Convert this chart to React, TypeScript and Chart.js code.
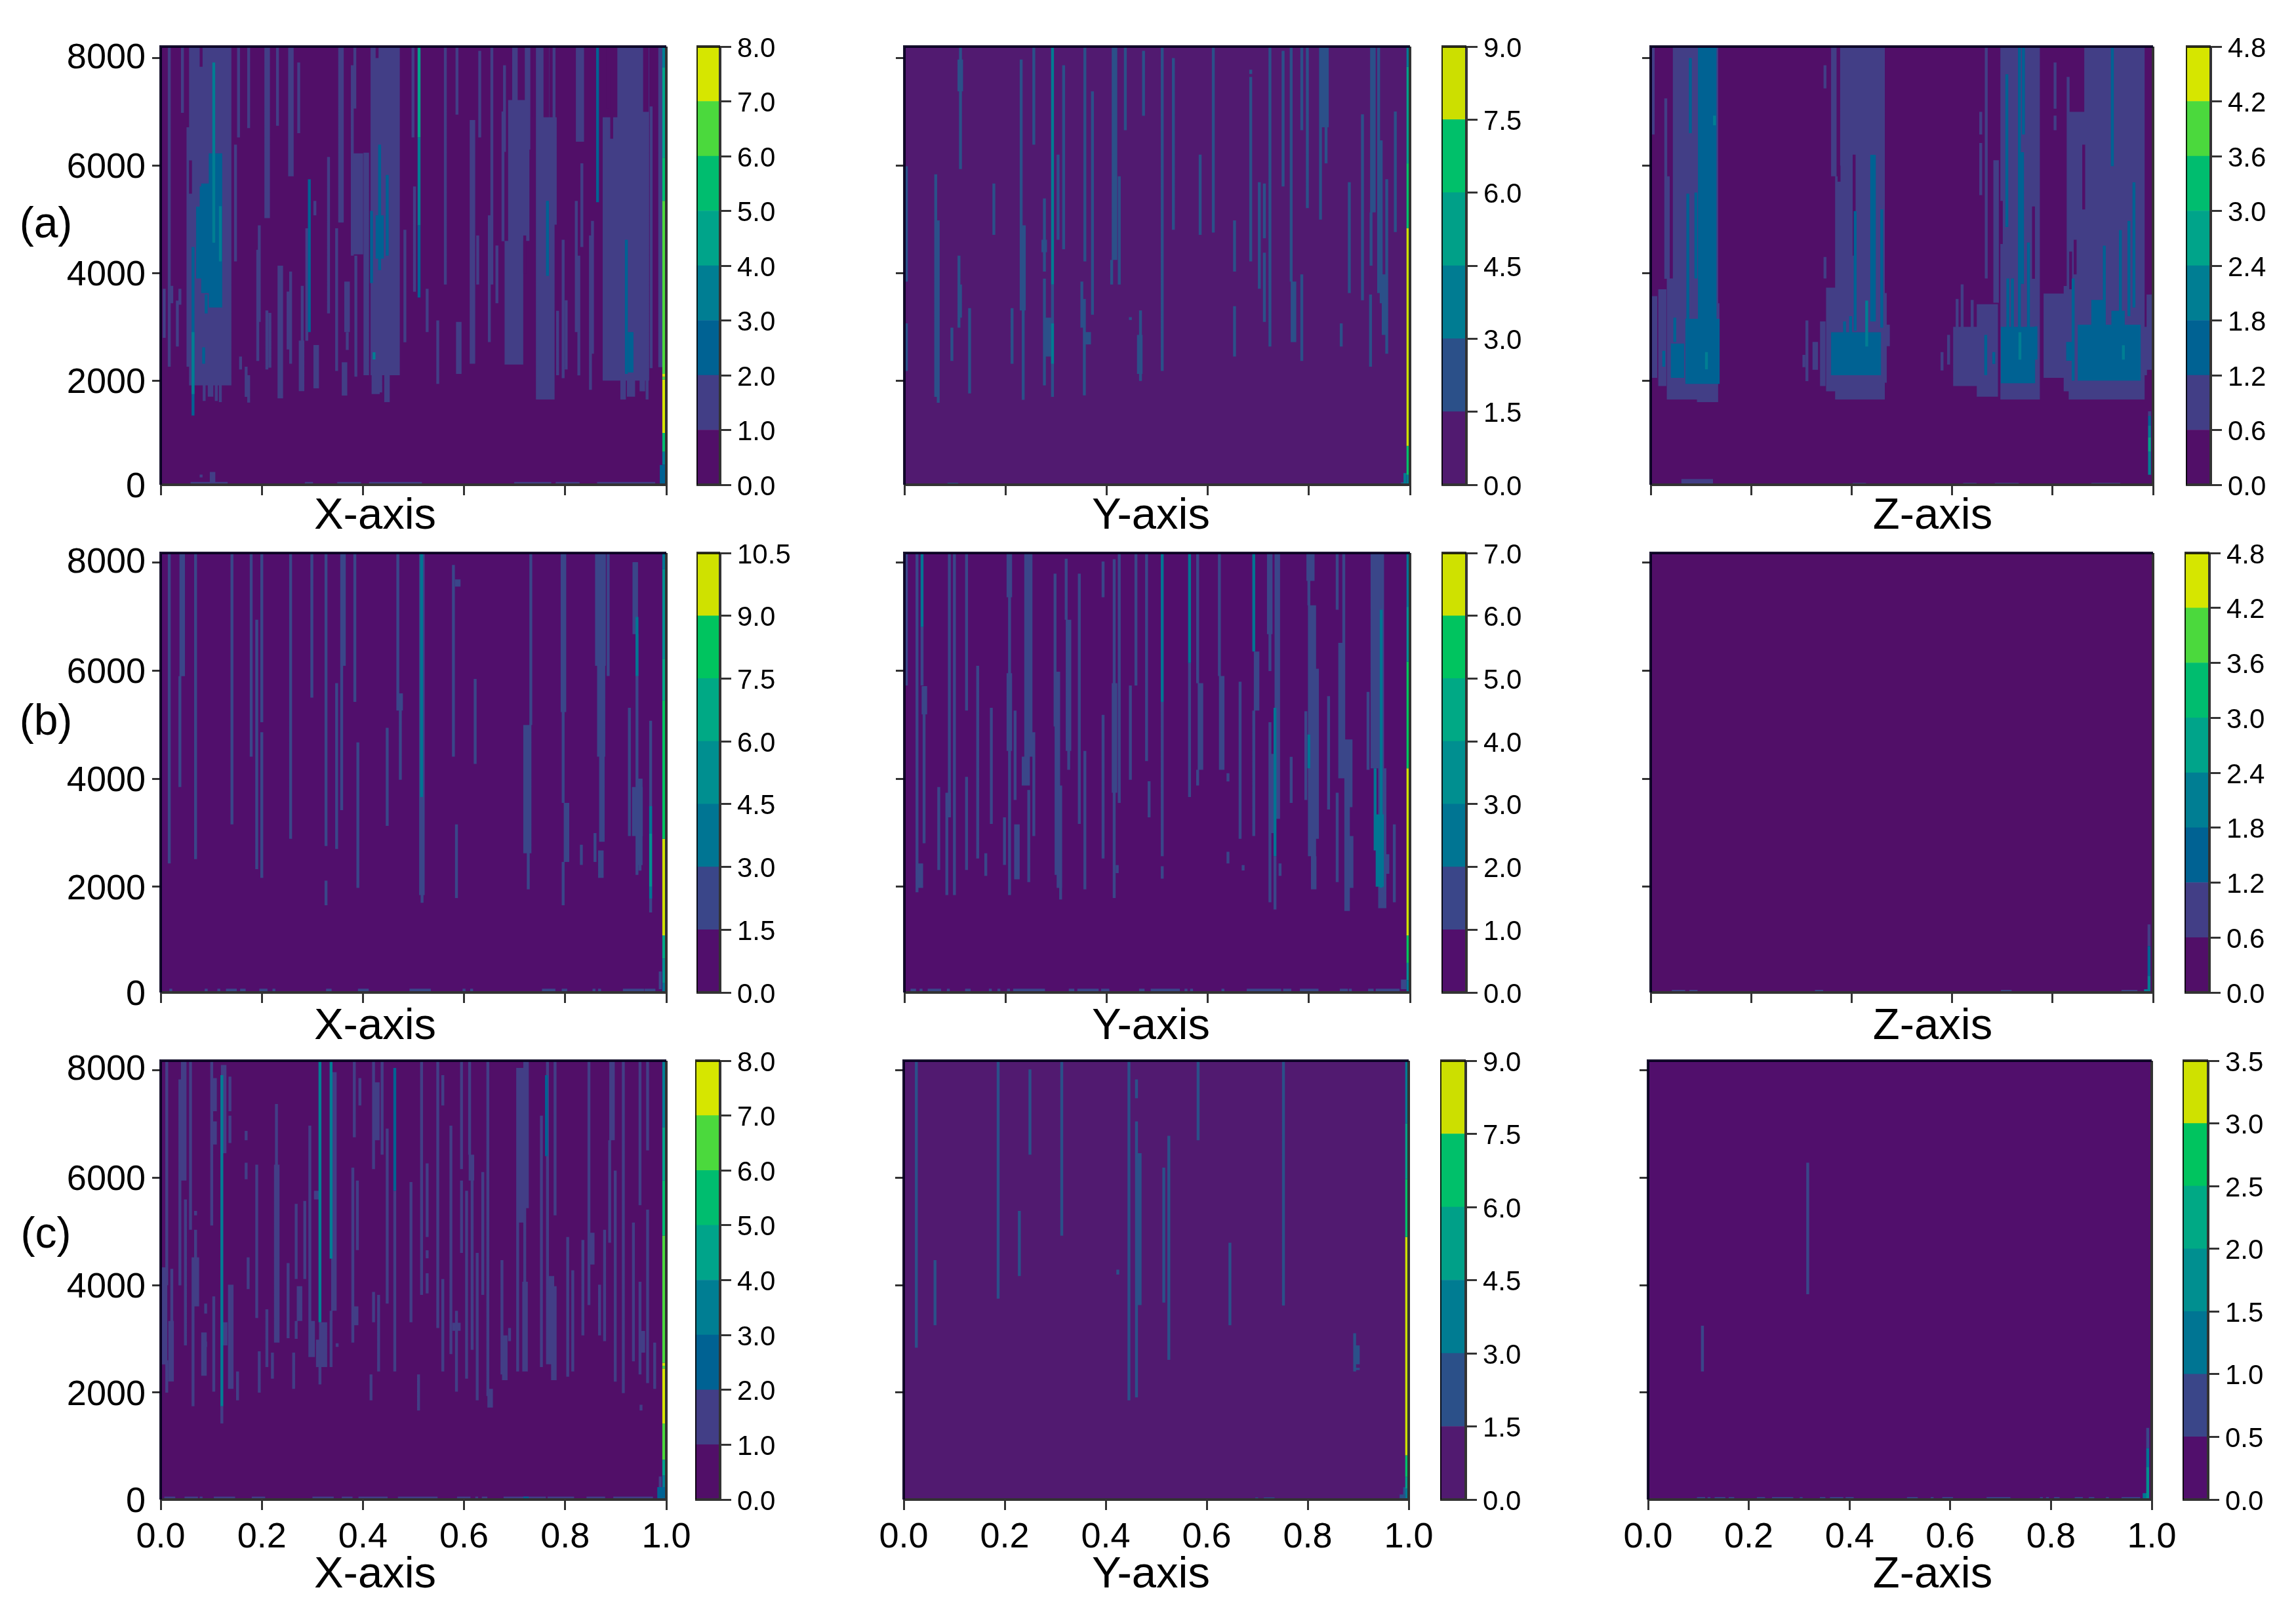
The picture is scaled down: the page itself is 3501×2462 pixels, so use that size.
import React, { useEffect, useRef } from "react";
import { Chart, registerables } from "chart.js";
Chart.register(...registerables);

type Seg = number[];
const COL = 0.0052;

const pal8 = ["#510f68", "#423e86", "#006293", "#007e93", "#00a48a", "#00bd6f", "#4bd93d", "#d6e600"];
const pal7 = ["#510f6c", "#3a4689", "#007593", "#008f90", "#00a985", "#00c45f", "#cfe100"];
const pal6 = ["#511a70", "#2b5089", "#007c92", "#00a088", "#00c06a", "#ccdf00"];

const levels1 = [0, 1, 2, 3, 4, 5, 6, 7, 8];
const levels15 = [0, 1.5, 3, 4.5, 6, 7.5, 9];
const levels105 = [0, 1.5, 3, 4.5, 6, 7.5, 9, 10.5];
const levels7 = [0, 1, 2, 3, 4, 5, 6, 7];
const levels06 = [0, 0.6, 1.2, 1.8, 2.4, 3, 3.6, 4.2, 4.8];
const levels05 = [0, 0.5, 1, 1.5, 2, 2.5, 3, 3.5];

const yTickValues = [2000, 4000, 6000, 8000];
const xTickStep = 0.2;
const rowRange = [[62, 8215], [40, 8180], [10, 8177]];

// ---------- (a) X ----------
const aX1: Seg[] = [
  [.017,2260,8215],[.007,2795,3708],[.022,3440,3762],[.033,2635,3490],[.038,3413,3708],[.043,6981,8215],
  [.059,1911,8215,16],[.054,2260,6713],[.086,1620,1911],[.11,1620,1911],[.118,1600,1911],[.096,1700,1911,2],
  [.148,4218,6391],[.154,6525,8215],[.158,2206,2447],[.169,1697,2260],[.174,6700,8215],[.174,1590,2100],
  [.192,2367,4433],[.195,3091,4889],[.208,5023,8215,2],[.21,2206,3306],[.216,2240,3260],
  [.231,6740,8215],[.234,1670,4137,2],[.255,5800,8215,2],[.252,2580,3655],[.257,2313,4030],
  [.273,6605,7920],[.276,1805,2743,2],[.28,1857,3762],[.289,2742,4835],[.305,1857,2662,2],[.305,5076,5345],
  [.332,3252,6160],[.348,2180,4835],[.354,4942,8215,2],[.361,1723,2340,2],[.366,2903,3842,2],[.369,2570,2900],
  [.379,4325,7866],[.384,7061,8215],[.386,2072,4325],
  [.418,2100,8215,11],[.404,2100,6240,2],[.382,4350,6230,4],[.42,1750,2100,3],[.445,1600,2100,2],[.43,1780,2100,2],
  [.47,4352,7000],[.47,2130,3200],[.483,2715,4808],[.499,6525,8215],[.502,3654,5613],[.527,2903,3708],[.548,1938,3118],
  [.563,3789,8215],[.587,2125,3091,2],[.586,6950,8215],[.614,2313,6847,2],[.631,6525,8135],[.627,3789,4701],
  [.65,2716,5076],[.655,3789,8215],[.665,3440,4513],[.677,4593,7008],[.68,6257,7866],
  [.683,2300,4600,7],[.69,4600,7220,8],[.698,7000,8215,2],[.723,6300,8215,2],
  [.745,1650,4900,7],[.745,4900,8215,5],[.77,4900,6900,3],[.778,5500,8215],[.785,2100,3300],[.796,2045,4620],[.802,2206,3494],
  [.824,6445,8215,3],[.822,2903,5345],[.827,2098,4325],[.833,4486,6042],[.85,1830,4701],[.854,2500,4970],
  [.906,2000,8215,12],[.877,2000,6900,6],[.912,1650,2000,2],[.925,1700,2000,3],[.95,1800,2000,2],
  [.987,2250,8215,2],[.97,2230,7100],[.962,1650,2250],
  [.062,62,115,14],[.288,62,115,3],[.352,62,115,9],[.415,62,115,20],[.702,62,115,14],[.784,62,115,9],[.866,62,115,22],[.1,115,300,2],[.08,200,250],
];
const aX0: Seg[] = [[.08,7839,8215],[.059,5479,6096],[.884,7061,8215],[.892,6500,7800],[.72,4000,4700],[.738,6900,8215],[.76,6900,8215,2],[.957,7000,8215,2],[.428,8000,8215]];
const aX2: Seg[] = [
  [.098,3360,6230,5],[.083,3630,5666,3],[.073,3900,5237,2],[.08,3900,5613],[.064,1350,4486],[.085,2313,2619],[.09,3250,3600],
  [.294,2903,5747],[.433,4057,6391],[.428,4270,5076,3],[.417,3816,5157],[.448,4325,5827],[.765,3950,5345],[.864,5318,8215],[.921,2126,4620],[.927,2152,2903,2],[.511,3547,4889],
];
const aX3: Seg[] = [[.105,4567,7920],[.118,4218,5247],[.064,1750,2903],[.422,2394,2528],[.511,4889,6525]];
const aX4: Seg[] = [[.511,6525,8215]];
const aXEdge: Seg[] = [[2,62,436],[3,436,677],[5,677,1026],[7,1026,2018],[6,2018,2072],[7,2072,2126],[6,2126,5345],[5,5345,6150],[4,6150,7823],[3,7823,8215]];
const aXCorner: Seg[] = [[.99,62,430]];

// ---------- (a) Y ----------
const aY1: Seg[] = [
  [.004,3843,5988],[.004,2179,3064],[.111,5935,8215],[.108,7383,7973,2],[.062,1696,5838],[.067,1589,4980],[.094,2367,2984],
  [.111,3172,3789],[.108,2984,4325],[.129,1761,3349],[.177,4711,5666],[.213,2313,3349],[.231,3306,7973],[.232,3306,4889,2],[.235,1643,3306],
  [.256,6391,8215],[.277,4030,5388],[.277,1911,3896],[.274,4390,4620,2],[.282,2447,3172,2],[.293,1696,3789],[.304,4620,6203],[.315,4443,7866],
  [.357,4218,8215],[.351,2984,3842],[.356,1724,3520],[.361,2673,2903,2],[.372,3226,7383],[.413,4245,8215,2],[.41,3789,4245],[.425,3789,5800],
  [.437,6659,8215],[.473,6927,8135],[.467,1992,3306],[.463,2126,2850,2],[.447,3130,3180],[.51,2179,8215],[.532,4808,8000],[.585,4711,6203],[.611,4754,8215],
  [.653,4030,4980],[.653,2447,3386],[.685,4218,7652],[.685,7705,7785],[.702,3708,5693],[.712,4647,5666],[.712,3091,4379],[.723,2635,8215],[.749,5613,8135],
  [.765,3842,8215],[.767,2716,3842,2],[.786,2367,3976],[.786,6659,8215],[.797,5211,8215],[.823,4996,8215],[.826,6713,8215,3],[.834,6042,8215],[.864,2635,3064],
  [.88,3628,5693],[.906,3494,6954],[.924,5130,8215,2],[.923,4137,5130],[.922,2260,3601],[.938,3628,8215],[.943,3440,6471],[.947,2850,3976,2],[.954,2501,5747],[.971,4765,7008],
  [.088,62,100,4],[.985,62,110,2],
];
const aY2: Seg[] = [[.293,3789,8215],[.293,2313,3064]];
const aYEdge: Seg[] = [[2,62,248],[4,248,785],[5,785,4835],[4,4835,6042],[3,6042,7839],[2,7839,8215]];
const aYCorner: Seg[] = [[.99,62,280]];

// ---------- (a) Z ----------
const aZ1: Seg[] = [
  [.005,6578,8215],[.005,2050,3570,2],[.018,1900,3700,3],[.035,1650,3900,3],[.047,1650,8215,10],[.095,1600,8215,8],[.134,2030,3440],
  [.03,3895,7250],[.035,3895,5800],[.311,1990,3120],[.305,2250,2480],[.325,2200,2720,2],[.34,1900,3100,2],[.352,1800,3730,5],[.362,5800,8215,2],[.347,7437,7866],[.347,3900,4300],
  [.38,1650,8215,17],[.37,1650,5800,2],[.468,2640,3040,2],[.467,1960,3630],[.58,2190,2530],[.593,2300,2850],
  [.605,1900,3000,9],[.61,2980,3520],[.62,2980,3790],[.64,3000,3500],[.652,1700,3420,8],[.657,6578,7000],[.657,5450,6420],[.668,3900,8215],
  [.699,1650,8215,15],[.685,3450,6100,2],[.785,2050,3620,11],[.825,1800,3760,2],[.835,1650,7000,6],[.866,1650,8215,23],[.831,3700,7650],[.805,7060,7920],[.805,6660,6930],
  [.99,2200,3600,2],[.985,2100,3000],[.993,1345,1430],
  [.064,62,170,12],[.405,62,100,5],[.625,62,100,5],[.688,62,100,9],[.88,62,100,11],
];
const aZ0: Seg[] = [[.405,4325,6203],[.375,5700,6000],[.698,4540,5345],[.762,3895,5240],[.862,5184,6390],[.845,3976,4620],[.836,3700,4400]];
const aZ2: Seg[] = [
  [.097,3150,8215,7],[.079,6605,8000],[.074,3150,5479],[.09,3900,5500],[.072,1940,3150,13],[.043,2050,2690,5],[.048,2720,3170],[.026,2260,2555],
  [.44,3100,6200,2],[.443,4000,5900],[.362,2100,2900,19],[.407,2930,5155],[.46,2984,5184],[.386,2900,3100],[.398,2900,3200],
  [.734,1950,8215],[.735,3800,6250,2],[.709,4860,7700],[.742,6578,8215],[.711,2000,3900],[.7,1950,3000,13],[.683,2310,2530],[.752,2020,4570],[.667,2100,2850],[.767,2390,3010],[.72,3000,3900],
  [.853,2000,3040,24],[.83,2370,2720,3],[.841,2000,3900],[.919,5990,8215],[.903,2980,4510],[.935,2980,4800],[.952,3200,4970],[.962,3360,5690],[.88,3000,3500,5],[.92,3000,3300,5],[.993,1160,1345],
];
const aZ3: Seg[] = [[.111,2210,2530],[.127,6750,6930],[.43,2635,3490],[.735,2390,2900],[.941,2390,2660],[.993,248,677],[.993,945,1160]];
const aZ4: Seg[] = [[.993,677,945]];

// ---------- (b) X ----------
const bX1: Seg[] = [
  [.017,2430,8180],[.04,5900,8180,2],[.038,3846,5900],[.069,2510,8180],[.141,3152,8180],[.179,4407,8180],[.19,2324,6943],[.2,5047,8180],[.2,2164,4860],
  [.257,2885,8180],[.299,5501,8180],[.327,2751,8180],[.327,1656,2110],[.348,2698,5768],[.358,6089,8180,2],[.358,3419,6089],[.384,5421,8180],[.39,1977,4673],
  [.448,3125,4941],[.469,5261,8180],[.471,5261,5581,2],[.474,3979,5261],[.514,1843,8180,2],[.517,1700,1843],[.579,4407,7958],[.585,7557,7691,2],[.585,1790,3152],[.622,4273,5848],
  [.732,4994,8180],[.72,2618,4994,3],[.727,1950,2751],[.794,5234,8180,2],[.796,3552,5234],[.8,2457,3552,2],[.796,1656,2457],[.832,2404,2778],
  [.862,6089,8180,4],[.866,4407,6089,3],[.87,2831,4407,2],[.859,2457,2991],[.868,2164,2671,2],[.885,5901,8180],[.936,6676,8011,2],[.927,2938,5314],[.935,2938,3846,4],[.942,2217,6676],[.948,2297,3606],[.945,2400,4000,2],[.969,1523,5074],
  [.02,40,110],[.09,40,110],[.115,40,110],[.132,40,110,4],[.16,40,110,2],[.198,40,110,3],[.224,40,110],[.33,40,110,2],[.393,40,110,4],[.495,40,110,8],[.6,40,110],[.615,40,110],[.757,40,110,5],[.796,40,110,2],[.857,40,110],[.868,40,110],[.917,40,110,8],[.96,40,110,4],[.988,100,430],
];
const bX2: Seg[] = [[.516,3659,8180],[.969,1780,2000],[.969,2980,3490],[.942,5901,6996]];
const bX3: Seg[] = [[.969,2000,2980]];
const bXEdge: Seg[] = [[2,40,214],[3,214,668],[4,668,1096],[6,1096,2885],[5,2885,5448],[4,5448,6222],[3,6222,7877],[2,7877,8180]];

// ---------- (b) Y ----------
const bY1: Seg[] = [
  [.004,5725,8180],[.025,1897,8180],[.029,1977,2430,2],[.035,5725,6810],[.037,5192,5715,2],[.039,2805,5192],[.089,3740,8180],[.084,3285,3740,2],[.084,1843,3285],[.099,1843,8180],[.068,2308,3846],
  [.123,5261,8180],[.123,2308,4033],[.145,2522,6089],[.172,3162,5314],[.161,2201,2618],[.198,2404,3285],[.205,7360,8180,2],[.205,4513,5955,2],[.208,1843,8180],
  [.24,4407,8180,3],[.235,3873,4407,3],[.219,3606,5261],[.22,2137,3152,2],[.246,2084,3792],[.256,2938,4860],[.298,4967,7797],[.3,2217,5982,2],[.304,1977,3873,2],[.309,1763,1977],
  [.322,4513,6943,2],[.325,4166,4513],[.32,6943,8075],[.346,3162,7797],[.357,1950,4513],[.393,7360,8022],[.393,2522,5181],[.413,3740,5768,2],[.415,1790,8065],[.425,3552,8180],[.421,2250,2400],
  [.447,3979,5725],[.458,5725,8180],[.479,4326,8180],[.484,3285,3953],[.51,2564,5421],[.51,2148,2378],[.564,3659,6142],[.58,5768,8180],[.583,4166,5768,2],[.58,3873,4166],
  [.623,5901,8180],[.625,4166,5901,2],[.64,3950,4100],[.64,2430,2645],[.67,2300,2400],[.664,2885,5795],[.694,5261,6355,2],[.691,2938,5261],[.72,6676,8180,2],[.723,5992,6676],[.723,1710,5047],
  [.735,3258,8180,2],[.727,2992,4460,2],[.733,1576,2564],[.743,2201,2430],[.765,3552,4406],[.798,7664,8180,3],[.801,2564,7210,3],[.8,7210,7664],[.794,3606,5250],[.807,1950,2564,2],[.817,2885,6035],
  [.856,7130,8180],[.839,3430,5528],[.861,4006,6516,2],[.869,4006,8180],[.873,3472,4727,3],[.873,1550,3472,2],[.88,1977,2938,2],[.856,2084,3740],[.917,4166,5608],[.925,4193,8180,5],[.94,1600,4193,3],[.951,2240,2600,2],[.969,1710,3152],
  [.015,40,110,2],[.033,40,110],[.049,40,110,5],[.087,40,110],[.123,40,110,2],[.17,40,110],[.187,40,110],[.206,40,110],[.218,40,110,12],[.328,40,110,2],[.345,40,110,8],[.392,40,110,3],[.467,40,110,2],[.49,40,110,11],[.557,40,110],[.568,40,110],[.63,40,110],[.68,40,110,13],[.752,40,110,3],[.785,40,110,7],[.864,40,110,3],[.882,40,110],[.92,40,110,2],[.935,40,110,9],[.985,100,280,2],
];
const bY2: Seg[] = [[.035,6810,8180],[.51,5421,8180],[.564,6142,8180],[.691,6355,8180],[.733,2564,5314],[.8,4193,4819],[.943,1980,7130],[.931,2670,4193],[.935,2000,3340,3]];
const bYEdge: Seg[] = [[2,40,268],[3,268,588],[5,588,1096],[6,1096,4193],[5,4193,6169],[3,6169,7183],[2,7183,8180]];

// ---------- (b) Z ----------
const bZ1: Seg[] = [[.045,40,90,5],[.08,40,90,3],[.33,40,90,3],[.7,40,90,4],[.94,40,90,6],[.992,900,1300]];
const bZ2: Seg[] = [[.992,350,900]];
const bZ3: Seg[] = [[.992,40,350],[.985,40,100,2]];

// ---------- (c) X ----------
const cX1: Seg[] = [
  [.012,4000,8177],[.012,2000,2600],[.005,2525,4331,2],[.018,2206,3335,2],[.022,2206,4304],[.038,3996,7828],[.043,5945,8177,2],[.04,6294,7828,2],[.049,2878,5595],[.059,5030,8177],
  [.068,3604,4519,2],[.064,1748,4519],[.069,5300,5380],[.069,3604,5030],[.089,3470,3658],[.089,2850,2950],[.083,2313,3120,2],[.101,5111,8177],[.103,7236,7854,2],[.103,6617,7048,2],[.105,2017,3792],
  [.137,7236,7882],[.137,6644,7155],[.122,6456,8097,2],[.124,2878,3308,2],[.136,2071,4008,2],[.152,1856,2394],[.121,1425,1748],[.169,6698,6870],[.169,5971,6278],[.173,3927,4519],[.19,3389,6241],[.195,2000,2770],[.21,2475,3550],[.221,2259,2744],
  [.229,6241,7370],[.227,2932,6241,2],[.252,3012,4411],[.263,2071,2744],[.268,4115,5514],[.272,3335,3981,2],[.268,3000,3335],[.285,4115,5568],[.295,2663,6967],[.297,2663,3335,2],[.306,5595,5756,2],[.31,2475,2986,3],
  [.316,2475,3308,3],[.315,2152,2475],[.34,3524,7962,2],[.337,2475,3524],[.349,2850,2920],[.38,2932,6187],[.383,6752,8177],[.383,3255,3604,2],[.389,4653,5945],[.394,7343,7854],
  [.421,6160,8177],[.425,6698,7774,2],[.421,3308,3873],[.431,2394,3820],[.438,6429,8177],[.448,3658,6913],[.463,2394,5756],[.416,1856,2340],[.495,3308,5918],[.51,1667,2340],[.516,3820,8177],[.527,4896,6267],[.527,3846,4223],[.527,4500,4650],
  [.548,3201,8177],[.558,7343,7908],[.558,2394,4115],[.574,2716,6967],[.58,3150,3300,3],[.585,2017,3524],[.595,6160,8177],[.595,4600,5945],[.605,2259,5756],[.612,5945,6429,2],[.611,6429,8177],[.616,2797,5945],[.626,1856,4600],[.637,3820,6106],[.647,1937,8177],[.649,1721,2071,2],
  [.675,2340,4465],[.678,2232,3066,2],[.69,2959,3201],[.706,5165,8043,3],[.706,2394,5407],[.718,2394,4062,2],[.72,5434,8177,2],[.72,2932,5434],[.753,2475,7155],[.765,2528,4169,3],[.775,2233,3981,2],[.765,4169,8177],
  [.78,5299,8177],[.805,2297,4896],[.815,2394,4277],[.835,3066,4842],[.847,3631,8177],[.85,4384,4977,2],[.868,3066,4008],[.878,2959,5030],[.89,6698,8177,2],[.888,4788,6698],[.899,2205,6133],[.915,1991,8177],[.935,2582,5165],[.948,5487,8177],[.948,2340,4062],[.95,2744,3147,2],[.963,6509,8177],[.963,2178,5407],[.977,2071,2932],[.95,1667,1775],
  [.01,10,65,3],[.026,10,65],[.05,10,65,5],[.08,10,65],[.108,10,65,8],[.183,10,65,5],[.303,10,65,8],[.361,10,65,4],[.394,10,65,11],[.472,10,65,15],[.589,10,65,5],[.625,10,65],[.638,10,65,2],[.681,10,65,16],[.768,10,65,10],[.845,10,65,7],[.898,10,65,15],[.988,242,440],
];
const cX2: Seg[] = [[.463,5756,8043],[.763,6402,7908],[.72,10,65,2],[.985,10,242,2]];
const cX3: Seg[] = [[.121,1748,7908],[.315,3308,8177],[.337,4492,8177]];
const cXEdge: Seg[] = [[2,10,242],[3,242,457],[4,457,753],[6,753,1425],[7,1425,2448],[6,2448,2500],[7,2500,2555],[6,2555,4922],[5,4922,5945],[4,5945,6940],[3,6940,8177]];

// ---------- (c) Y ----------
const cY1: Seg[] = [
  [.025,2835,8177],[.062,3255,4465],[.187,3750,8177],[.25,6429,8016],[.229,4169,5380],[.313,4922,8177],[.424,4196,4288],[.446,1856,8177],[.461,7478,7828],[.461,1910,7047],[.463,3631,6456,2],
  [.515,3674,6187],[.525,2609,6778],[.583,6698,8177],[.646,3255,4788],[.752,3620,8177],[.893,2394,3104],[.895,2528,2878,2],[.895,2420,2460,2],
  [.699,10,50],[.716,10,50,4],[.985,10,105,2],[.992,105,240],
];
const cYEdge: Seg[] = [[2,10,215],[3,215,430],[4,430,834],[5,834,4896],[4,4896,5972],[3,5972,7010],[2,7010,8177]];

// ---------- (c) Z ----------
const cZ1: Seg[] = [
  [.108,2394,3244],[.317,3830,6278],[.992,968,1345],
  [.1,10,55,3],[.121,10,55],[.135,10,55,4],[.163,10,55,2],[.219,10,55,3],[.249,10,55,8],[.304,10,55],[.344,10,55,2],[.364,10,55,5],[.395,10,55,3],[.517,10,55,4],[.564,10,55],[.587,10,55,4],[.675,10,55,9],[.781,10,55],[.793,10,55],[.809,10,55,2],[.85,10,55,3],[.878,10,55,2],[.912,10,55],[.943,10,55,7],
];
const cZ2: Seg[] = [[.992,618,968],[.985,10,130,2]];
const cZ3: Seg[] = [[.992,10,618]];

const colTitles = ["X-axis", "Y-axis", "Z-axis"];
const rowTitles = ["(a)", "(b)", "(c)"];

type Layer = { color: number; segs: Seg[] };
type Panel = {
  row: number; col: number; box: number[]; bar: number[]; levels: number[]; palette: string[];
  layers: Layer[]; edge?: Seg[]; edgeX?: number;
};

const rowBox = [[71, 739], [843, 1513], [1617, 2286]];

const panels: Panel[] = [
  { row: 0, col: 0, box: [245, 1016], bar: [1062, 1098], levels: levels1, palette: pal8, edge: aXEdge, edgeX: .996,
    layers: [{ color: 1, segs: aX1 }, { color: 0, segs: aX0 }, { color: 2, segs: aX2 }, { color: 3, segs: aX3 }, { color: 4, segs: aX4 }, { color: 2, segs: aXCorner }] },
  { row: 0, col: 1, box: [1379, 2150], bar: [2198, 2236], levels: levels15, palette: pal6, edge: aYEdge, edgeX: .997,
    layers: [{ color: 1, segs: aY1 }, { color: 2, segs: aY2 }, { color: 2, segs: aYCorner }] },
  { row: 0, col: 2, box: [2517, 3283], bar: [3333, 3371], levels: levels06, palette: pal8,
    layers: [{ color: 1, segs: aZ1 }, { color: 0, segs: aZ0 }, { color: 2, segs: aZ2 }, { color: 3, segs: aZ3 }, { color: 4, segs: aZ4 }] },
  { row: 1, col: 0, box: [245, 1016], bar: [1062, 1098], levels: levels105, palette: pal7, edge: bXEdge, edgeX: .996,
    layers: [{ color: 1, segs: bX1 }, { color: 2, segs: bX2 }, { color: 3, segs: bX3 }] },
  { row: 1, col: 1, box: [1379, 2150], bar: [2198, 2236], levels: levels7, palette: pal7, edge: bYEdge, edgeX: .997,
    layers: [{ color: 1, segs: bY1 }, { color: 2, segs: bY2 }] },
  { row: 1, col: 2, box: [2517, 3283], bar: [3331, 3369], levels: levels06, palette: pal8,
    layers: [{ color: 1, segs: bZ1 }, { color: 2, segs: bZ2 }, { color: 3, segs: bZ3 }] },
  { row: 2, col: 0, box: [245, 1016], bar: [1060, 1098], levels: levels1, palette: pal8, edge: cXEdge, edgeX: .996,
    layers: [{ color: 1, segs: cX1 }, { color: 2, segs: cX2 }, { color: 3, segs: cX3 }] },
  { row: 2, col: 1, box: [1378, 2148], bar: [2196, 2235], levels: levels15, palette: pal6, edge: cYEdge, edgeX: .997,
    layers: [{ color: 1, segs: cY1 }] },
  { row: 2, col: 2, box: [2513, 3281], bar: [3328, 3367], levels: levels05, palette: pal7,
    layers: [{ color: 1, segs: cZ1 }, { color: 2, segs: cZ2 }, { color: 3, segs: cZ3 }] },
];

const titleX = [572, 1755, 2947];
const titleY = [782, 1560, 2396];
const rowLabelY = [339, 1097, 1879];

const PAD_L = 150, PAD_R = 50, PAD_T = 30, PAD_B = 125;
const FONT = "'Liberation Sans', Arial, sans-serif";

const noPad = (s: any) => { s.paddingLeft = 0; s.paddingRight = 0; s.paddingTop = 0; s.paddingBottom = 0; };

// Nudges the y-axis tick labels a few pixels down, as they sit in the reference.
const labelNudge = (dy: number, skipTop: boolean) => ({
  id: "labelNudge",
  beforeDraw(chart: any) {
    const s = chart.scales.y;
    const items = s.getLabelItems(chart.chartArea);
    const last = items.length - 1;
    items.forEach((it: any, i: number) => {
      if (skipTop && i === last) return;
      if (it.options && it.options.translation) it.options.translation[1] += dy;
    });
  },
});

const frame = (c0: string, c1: string) => ({
  id: "frame",
  afterDraw(chart: any) {
    const { ctx, chartArea: a } = chart;
    ctx.save();
    ctx.lineWidth = 4;
    ctx.strokeStyle = c1;
    ctx.beginPath();
    ctx.moveTo(a.left, a.bottom); ctx.lineTo(a.right, a.bottom); ctx.lineTo(a.right, a.top);
    ctx.stroke();
    ctx.strokeStyle = c0;
    ctx.beginPath();
    ctx.moveTo(a.left, a.bottom); ctx.lineTo(a.left, a.top); ctx.lineTo(a.right, a.top);
    ctx.stroke();
    ctx.restore();
  },
});

function toPoints(segs: Seg[]) {
  const pts: any[] = [];
  for (const s of segs) {
    const n = s[3] || 1;
    for (let k = 0; k < n; k++) {
      const x = s[0] + k * COL;
      pts.push({ x, y: s[1] }, { x, y: s[2] }, { x, y: null });
    }
  }
  return pts;
}

function plotConfig(p: Panel) {
  const [yMin, yMax] = rowRange[p.row];
  const datasets: any[] = [];
  datasets.push({
    data: [{ x: 0, y: yMax }, { x: 1, y: yMax }],
    borderWidth: 0, pointRadius: 0, fill: { value: yMin }, backgroundColor: p.palette[0],
    order: 100, clip: 0,
  });
  p.layers.forEach((l, i) => {
    datasets.push({
      data: toPoints(l.segs),
      borderColor: p.palette[l.color], borderWidth: 4.4, pointRadius: 0, fill: false, spanGaps: false,
      borderDash: [100000], order: 90 - i, clip: 0,
    });
  });
  if (p.edge) {
    p.edge.forEach((e, i) => {
      datasets.push({
        data: toPoints([[p.edgeX as number, e[1], e[2]]]),
        borderColor: p.palette[e[0]], borderWidth: 6, pointRadius: 0, fill: false, spanGaps: false,
        borderDash: [100000], order: 40 - i, clip: 0,
      });
    });
  }
  const isBottom = p.row === 2;
  const isLeft = p.col === 0;
  return {
    type: "line",
    data: { datasets },
    plugins: [frame("rgba(5,0,30,0.92)", "#333333"), labelNudge(4, true)],
    options: {
      animation: false, responsive: false, events: [],
      layout: { padding: { top: PAD_T, right: PAD_R, left: 0, bottom: 0 } },
      plugins: { legend: { display: false }, tooltip: { enabled: false }, title: { display: false } },
      scales: {
        x: {
          type: "linear", min: 0, max: 1,
          afterFit(s: any) { s.height = PAD_B; noPad(s); },
          border: { display: false },
          grid: { drawOnChartArea: false, drawTicks: true, tickLength: 16, tickWidth: 3, tickColor: "#333333" },
          ticks: {
            display: isBottom, stepSize: xTickStep, autoSkip: false, maxRotation: 0, minRotation: 0, padding: 10,
            color: "#000", font: { family: FONT, size: 54 },
            callback: (v: number) => Number(v).toFixed(1),
          },
        },
        y: {
          type: "linear", min: yMin, max: yMax,
          afterFit(s: any) { s.width = PAD_L; noPad(s); },
          afterBuildTicks(s: any) { s.ticks = [yMin, ...yTickValues].map((value) => ({ value })); },
          border: { display: false },
          grid: {
            drawOnChartArea: false, drawTicks: true, tickLength: 13, tickWidth: 3,
            tickColor: (c: any) => (c.tick && c.tick.value === yMin ? "rgba(0,0,0,0)" : "#333333"),
          },
          ticks: {
            display: isLeft, autoSkip: false, padding: 10, color: "#000", font: { family: FONT, size: 54 },
            callback: (v: number) => (v === yMin ? "0" : String(v)),
          },
        },
      },
    },
  };
}

function barConfig(p: Panel) {
  const lv = p.levels;
  const datasets = lv.slice(0, -1).map((lo, i) => ({
    data: [[lo, lv[i + 1]]], backgroundColor: p.palette[i], borderWidth: 0, grouped: false,
    barPercentage: 1, categoryPercentage: 1,
  }));
  return {
    type: "bar",
    data: { labels: [""], datasets },
    plugins: [frame("rgba(0,0,0,0.82)", "#333333"), labelNudge(4, false)],
    options: {
      animation: false, responsive: false, events: [],
      layout: { padding: { top: PAD_T, bottom: PAD_T, left: 0, right: 0 } },
      plugins: { legend: { display: false }, tooltip: { enabled: false }, title: { display: false } },
      scales: {
        x: { display: false, grid: { display: false }, offset: true },
        y: {
          position: "right", min: lv[0], max: lv[lv.length - 1],
          afterFit(s: any) { s.width = 120; noPad(s); },
          afterBuildTicks(s: any) { s.ticks = lv.map((value) => ({ value })); },
          border: { display: false },
          grid: { drawOnChartArea: false, drawTicks: true, tickLength: 17, tickWidth: 3, tickColor: "#333333" },
          ticks: {
            autoSkip: false, padding: 9, color: "#000", font: { family: FONT, size: 42 },
            callback: (v: number) => Number(v).toFixed(1),
          },
        },
      },
    },
  };
}

function Panel({ cfg, style }: { cfg: () => any; style: { left: number; top: number; width: number; height: number } }) {
  const ref = useRef<HTMLCanvasElement>(null);
  useEffect(() => {
    const chart = new Chart(ref.current as HTMLCanvasElement, cfg());
    return () => chart.destroy();
  }, []);
  return (
    <canvas
      ref={ref}
      width={style.width}
      height={style.height}
      style={{ position: "absolute", left: style.left, top: style.top, width: style.width, height: style.height, display: "block" }}
    />
  );
}

const textStyle = (x: number, y: number, size: number): React.CSSProperties => ({
  position: "absolute", left: x, top: y, transform: "translate(-50%,-50%)", fontFamily: FONT, fontSize: size,
  lineHeight: 1, color: "#000", whiteSpace: "nowrap",
});

export default function App() {
  return (
    <div style={{ position: "absolute", left: 0, top: 0, width: 3501, height: 2462, background: "#fff", overflow: "hidden" }}>
      {panels.map((p, i) => {
        const [t, b] = rowBox[p.row];
        return (
          <React.Fragment key={i}>
            <Panel cfg={() => plotConfig(p)}
              style={{ left: p.box[0] - PAD_L, top: t - PAD_T, width: p.box[1] - p.box[0] + PAD_L + PAD_R, height: b - t + PAD_T + PAD_B }} />
            <Panel cfg={() => barConfig(p)}
              style={{ left: p.bar[0], top: t - PAD_T, width: p.bar[1] - p.bar[0] + 120, height: b - t + 2 * PAD_T }} />
          </React.Fragment>
        );
      })}
      {titleY.map((y, r) => colTitles.map((c, k) => (
        <div key={r + c} style={textStyle(titleX[k], y, 67)}>{c}</div>
      )))}
      {rowTitles.map((t, r) => (
        <div key={t} style={textStyle(70, rowLabelY[r], 66)}>{t}</div>
      ))}
    </div>
  );
}
